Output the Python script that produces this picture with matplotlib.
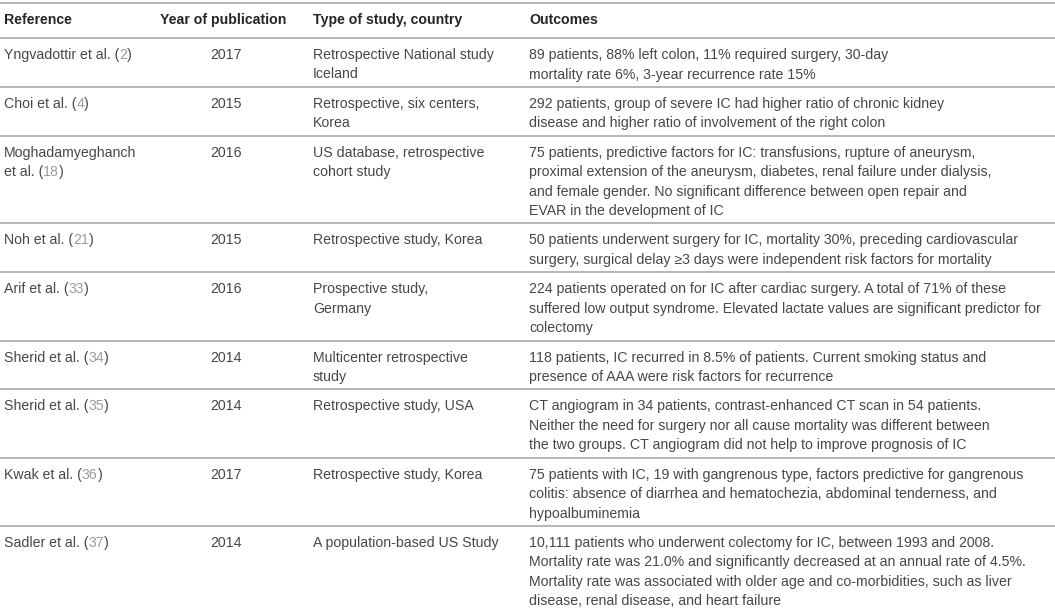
import matplotlib
matplotlib.use('Agg')
import matplotlib.pyplot as plt

# Datos de la tabla
headers = ['Reference', 'Year of publication', 'Type of study, country', 'Outcomes']

ref_names = ['Yngvadottir et al. (', 'Choi et al. (', 'Moghadamyeghanch\net al. (',
             'Noh et al. (', 'Arif et al. (', 'Sherid et al. (', 'Sherid et al. (',
             'Kwak et al. (', 'Sadler et al. (']
ref_nums = ['2', '4', '18', '21', '33', '34', '35', '36', '37']

years = ['2017', '2015', '2016', '2015', '2016', '2014', '2014', '2017', '2014']

study_types = [
    'Retrospective National study\nIceland',
    'Retrospective, six centers,\nKorea',
    'US database, retrospective\ncohort study',
    'Retrospective study, Korea',
    'Prospective study,\nGermany',
    'Multicenter retrospective\nstudy',
    'Retrospective study, USA',
    'Retrospective study, Korea',
    'A population-based US Study',
]

outcomes = [
    '89 patients, 88% left colon, 11% required surgery, 30-day\n'
    'mortality rate 6%, 3-year recurrence rate 15%',
    '292 patients, group of severe IC had higher ratio of chronic kidney\n'
    'disease and higher ratio of involvement of the right colon',
    '75 patients, predictive factors for IC: transfusions, rupture of aneurysm,\n'
    'proximal extension of the aneurysm, diabetes, renal failure under dialysis,\n'
    'and female gender. No significant difference between open repair and\n'
    'EVAR in the development of IC',
    '50 patients underwent surgery for IC, mortality 30%, preceding cardiovascular\n'
    'surgery, surgical delay \u22653 days were independent risk factors for mortality',
    '224 patients operated on for IC after cardiac surgery. A total of 71% of these\n'
    'suffered low output syndrome. Elevated lactate values are significant predictor for\n'
    'colectomy',
    '118 patients, IC recurred in 8.5% of patients. Current smoking status and\n'
    'presence of AAA were risk factors for recurrence',
    'CT angiogram in 34 patients, contrast-enhanced CT scan in 54 patients.\n'
    'Neither the need for surgery nor all cause mortality was different between\n'
    'the two groups. CT angiogram did not help to improve prognosis of IC',
    '75 patients with IC, 19 with gangrenous type, factors predictive for gangrenous\n'
    'colitis: absence of diarrhea and hematochezia, abdominal tenderness, and\n'
    'hypoalbuminemia',
    '10,111 patients who underwent colectomy for IC, between 1993 and 2008.\n'
    'Mortality rate was 21.0% and significantly decreased at an annual rate of 4.5%.\n'
    'Mortality rate was associated with older age and co-morbidities, such as liver\n'
    'disease, renal disease, and heart failure',
]

plt.rcParams['font.family'] = ['Liberation Sans', 'DejaVu Sans']

W, H = 1055, 608
fig = plt.figure(figsize=(W / 100, H / 100), dpi=100)
ax = fig.add_axes([0, 0, 1, 1])
ax.set_xlim(0, W)
ax.set_ylim(H, 0)
ax.axis('off')

fs = 10.2
txt_col = '#474747'
num_col = '#9c9c9c'
line_col = '#b5b5b5'
lh = 19.5  # alto de linea
pad = 9.8

col_x = [4, 226, 313, 529]

# Cabecera
ax.axhline(3, color=line_col, lw=1.4)
for i, h in enumerate(headers):
    ha = 'center' if i == 1 else 'left'
    x = 223 if i == 1 else col_x[i]
    ax.text(x, 20, h, ha=ha, va='center', fontsize=fs, fontweight='bold', color='#262626')
ax.axhline(38, color=line_col, lw=1.4)

top = 38
for r in range(len(years)):
    n = max(outcomes[r].count('\n'), study_types[r].count('\n'), ref_names[r].count('\n')) + 1
    y0 = top + 17

    # Referencia con numero en gris
    partes = ref_names[r].split('\n')
    for k, p in enumerate(partes[:-1]):
        ax.text(col_x[0], y0 + k * lh, p, va='center', fontsize=fs, color=txt_col)
    t1 = ax.text(col_x[0], y0 + (len(partes) - 1) * lh, partes[-1], va='center',
                 fontsize=fs, color=txt_col)
    t2 = ax.annotate(ref_nums[r], xy=(1, 0), xycoords=t1, va='bottom', ha='left',
                     fontsize=fs, color=num_col)
    ax.annotate(')', xy=(1, 0), xycoords=t2, va='bottom', ha='left',
                fontsize=fs, color=txt_col)

    ax.text(col_x[1], y0, years[r], ha='center', va='center', fontsize=fs, color=txt_col)

    for k, l in enumerate(study_types[r].split('\n')):
        ax.text(col_x[2], y0 + k * lh, l, va='center', fontsize=fs, color=txt_col)
    for k, l in enumerate(outcomes[r].split('\n')):
        ax.text(col_x[3], y0 + k * lh, l, va='center', fontsize=fs, color=txt_col)

    top = top + pad + n * lh
    if r < len(years) - 1:
        ax.axhline(top, color=line_col, lw=1.4)

fig.savefig('out.png', dpi=100, facecolor='white')
